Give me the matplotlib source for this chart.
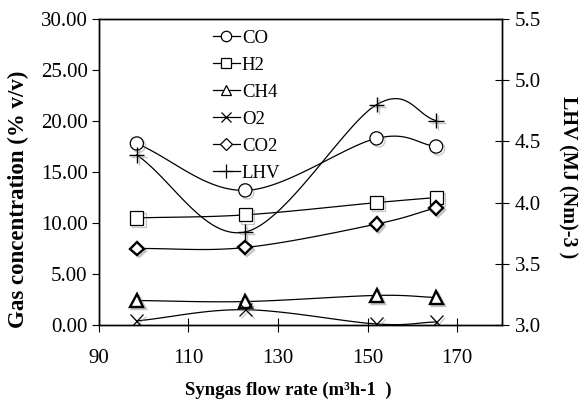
import numpy as np
import matplotlib.pyplot as plt
import matplotlib.patheffects as pe
from matplotlib.ticker import FormatStrFormatter, MultipleLocator
from matplotlib.lines import Line2D

plt.rcParams['font.family'] = ['Liberation Serif', 'DejaVu Serif']

# syngas flow rate (m3/h)
flow = [98.5, 122.7, 152.0, 165.3]

co = [17.8, 13.2, 18.3, 17.5]
h2 = [10.5, 10.8, 12.0, 12.5]
ch4 = [2.4, 2.3, 2.9, 2.7]
o2 = [0.4, 1.5, 0.1, 0.3]
co2 = [7.5, 7.6, 9.9, 11.5]
lhv = [4.39, 3.76, 4.80, 4.67]


def smooth(x, y, n=40):
    # catmull-rom curve through the points, like excel's smoothed lines
    x = np.asarray(x, float)
    y = np.asarray(y, float)
    px = np.concatenate([[2*x[0]-x[1]], x, [2*x[-1]-x[-2]]])
    py = np.concatenate([[2*y[0]-y[1]], y, [2*y[-1]-y[-2]]])
    t = np.linspace(0, 1, n)
    xs, ys = [], []
    for i in range(1, len(px)-2):
        for p, out in ((px, xs), (py, ys)):
            p0, p1, p2, p3 = p[i-1], p[i], p[i+1], p[i+2]
            out.append(0.5*((2*p1) + (-p0+p2)*t + (2*p0-5*p1+4*p2-p3)*t**2
                            + (-p0+3*p1-3*p2+p3)*t**3))
    return np.concatenate(xs), np.concatenate(ys)


shadow = [pe.SimpleLineShadow(offset=(1.5, -1.5), shadow_color='0.5',
                              alpha=0.45), pe.Normal()]

fig = plt.figure(figsize=(5.81, 4.05), dpi=100)
ax = fig.add_axes([0.170, 0.1975, 0.694, 0.7555])
ax2 = ax.twinx()

series = [(co, 'o', 'CO'), (h2, 's', 'H2'), (ch4, '^', 'CH4'),
          (o2, 'x', 'O2'), (co2, 'D', 'CO2')]
handles = []
for vals, m, name in series:
    sx, sy = smooth(flow, vals)
    ax.plot(sx, sy, color='black', lw=0.9)
    ms = 7 if m == 'D' else 9.5
    mew = 1.7 if m in ('^', 'D') else 0.9
    ax.plot(flow, vals, ls='none', marker=m, ms=ms, mfc='white',
            mec='black', mew=mew, zorder=3, path_effects=shadow)
    handles.append(Line2D([], [], color='black', lw=0.9, marker=m,
                          ms=7.5 if m != 'D' else 6, mfc='white',
                          mec='black', mew=0.9))

sx, sy = smooth(flow, lhv)
ax2.plot(sx, sy, color='black', lw=0.9)
ax2.plot(flow, lhv, ls='none', marker='+', ms=11, mec='black', mew=1.0,
         path_effects=shadow)
handles.append(Line2D([], [], color='black', lw=0.9, marker='+', ms=10,
                      mec='black', mew=0.9))

ax.set_xlim(90, 180)
ax.set_ylim(0, 30)
ax2.set_ylim(3.0, 5.5)
ax.set_xticks([90, 110, 130, 150, 170])
ax.yaxis.set_major_locator(MultipleLocator(5))
ax.yaxis.set_major_formatter(FormatStrFormatter('%.2f'))
ax2.yaxis.set_major_locator(MultipleLocator(0.5))
ax2.yaxis.set_major_formatter(FormatStrFormatter('%.1f'))

ax.tick_params(axis='x', direction='inout', length=10, labelsize=15, pad=12)
ax.tick_params(axis='y', direction='out', length=5, labelsize=15, pad=3)
ax2.tick_params(axis='y', direction='inout', length=10, labelsize=15, pad=4)
for a in (ax, ax2):
    for s in a.spines.values():
        s.set_linewidth(1.0)

ax.set_ylabel('Gas concentration (% v/v)', fontsize=16.5, fontweight='bold',
              va='center')
ax.yaxis.set_label_coords(-0.20, 0.41)
ax2.set_ylabel('LHV (MJ (Nm)-3 )', fontsize=14.5, fontweight='bold',
               rotation=-90, va='center')
ax2.yaxis.set_label_coords(1.163, 0.484)
ax.set_xlabel('Syngas flow rate (m³h-1  )', fontsize=13.5, fontweight='bold',
              va='center')
ax.xaxis.set_label_coords(0.469, -0.212)

ax.legend(handles, ['CO', 'H2', 'CH4', 'O2', 'CO2', 'LHV'], loc='upper left',
          bbox_to_anchor=(0.283, 0.966), frameon=False, fontsize=13.5,
          handlelength=1.45, handletextpad=0.1, labelspacing=0.53,
          borderaxespad=0, borderpad=0)

fig.savefig('out.png', dpi=100)
